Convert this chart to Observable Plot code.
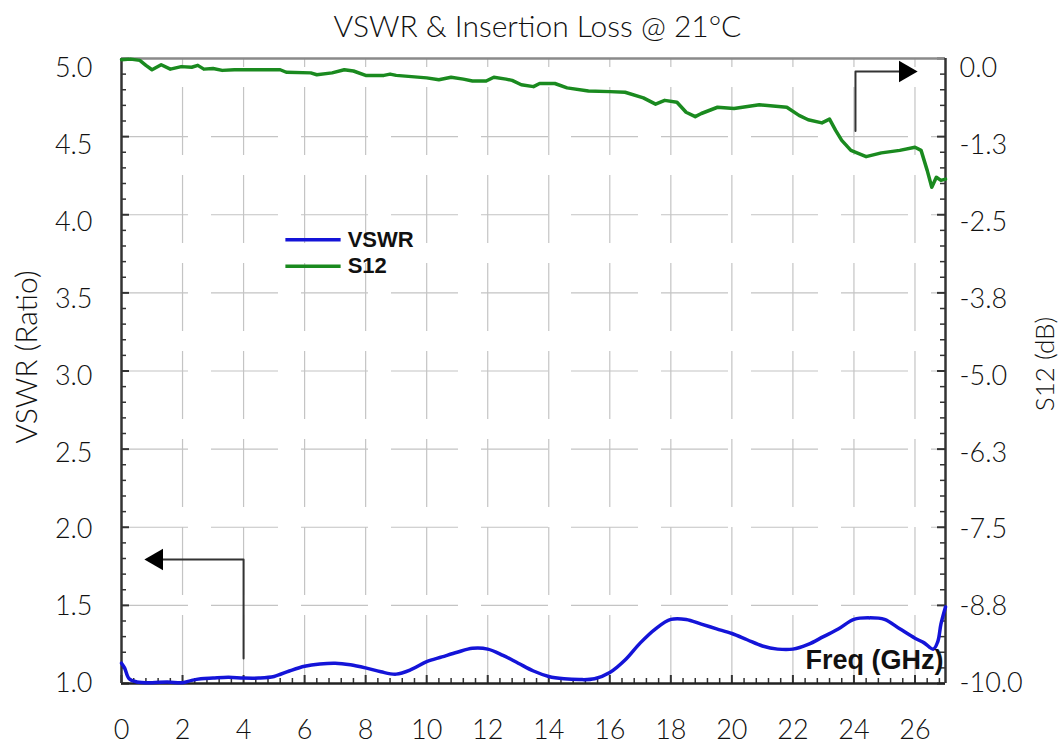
<!DOCTYPE html>
<html>
<head>
<meta charset="utf-8">
<script src="https://cdn.jsdelivr.net/npm/d3@7"></script>
<script src="https://cdn.jsdelivr.net/npm/@observablehq/plot@0.6"></script>
<style>
  html, body { margin: 0; padding: 0; background: #fff; }
  #chart svg { display: block; }
</style>
</head>
<body>
<div id="chart"></div>
<script>
// ---- data ----
const titleText = "VSWR & Insertion Loss @ 21°C";
const xTicks = [0, 2, 4, 6, 8, 10, 12, 14, 16, 18, 20, 22, 24, 26];
const leftTicks = [1.0, 1.5, 2.0, 2.5, 3.0, 3.5, 4.0, 4.5, 5.0];
const leftTickLabels = ["1.0", "1.5", "2.0", "2.5", "3.0", "3.5", "4.0", "4.5", "5.0"];
const rightTickLabels = ["-10.0", "-8.8", "-7.5", "-6.3", "-5.0", "-3.8", "-2.5", "-1.3", "0.0"];

const vswrFreq = [0, 0.1, 0.25, 0.5, 1.0, 1.5, 2.0, 2.3, 2.6, 3.0, 3.5, 4.0, 4.5, 5.0, 5.5, 6.0, 6.5, 7.0, 7.5, 8.0, 8.5, 9.0, 9.5, 10.0, 10.5, 11.0, 11.5, 12.0, 12.5, 13.0, 13.5, 14.0, 14.5, 15.0, 15.5, 16.0, 16.5, 17.0, 17.5, 18.0, 18.5, 19.0, 19.5, 20.0, 20.5, 21.0, 21.5, 22.0, 22.5, 23.0, 23.5, 24.0, 24.5, 25.0, 25.5, 26.0, 26.3, 26.6, 26.75, 26.85, 27.0];
const vswrValue = [1.13, 1.10, 1.03, 1.01, 1.005, 1.01, 1.005, 1.02, 1.03, 1.035, 1.04, 1.035, 1.035, 1.045, 1.08, 1.11, 1.125, 1.13, 1.12, 1.10, 1.075, 1.06, 1.09, 1.14, 1.17, 1.20, 1.225, 1.22, 1.18, 1.13, 1.08, 1.045, 1.03, 1.025, 1.03, 1.07, 1.15, 1.26, 1.35, 1.41, 1.41, 1.38, 1.35, 1.32, 1.28, 1.24, 1.22, 1.22, 1.25, 1.30, 1.35, 1.41, 1.42, 1.41, 1.35, 1.29, 1.26, 1.22, 1.27, 1.38, 1.49];

const s12Freq = [0, 0.3, 0.6, 0.8, 1.0, 1.3, 1.6, 1.96, 2.3, 2.5, 2.7, 3.0, 3.3, 3.7, 4.5, 5.2, 5.4, 6.2, 6.4, 6.9, 7.3, 7.6, 8.0, 8.6, 8.8, 9.0, 9.5, 10.0, 10.4, 10.8, 11.2, 11.5, 11.95, 12.2, 12.6, 12.8, 13.1, 13.5, 13.7, 14.2, 14.6, 15.3, 16.0, 16.5, 17.1, 17.5, 17.8, 18.2, 18.5, 18.8, 19.0, 19.53, 20.07, 20.9, 21.8, 22.2, 22.5, 22.95, 23.2, 23.4, 23.6, 23.9, 24.4, 24.9, 25.5, 26.0, 26.2, 26.4, 26.55, 26.7, 26.85, 27.0];
const s12Value = [-0.02, -0.01, -0.03, -0.11, -0.18, -0.10, -0.17, -0.13, -0.14, -0.11, -0.17, -0.16, -0.19, -0.18, -0.18, -0.18, -0.22, -0.23, -0.26, -0.23, -0.18, -0.20, -0.27, -0.27, -0.25, -0.27, -0.29, -0.31, -0.34, -0.30, -0.33, -0.36, -0.36, -0.30, -0.33, -0.35, -0.42, -0.45, -0.40, -0.40, -0.47, -0.52, -0.53, -0.54, -0.63, -0.73, -0.67, -0.70, -0.86, -0.93, -0.88, -0.78, -0.80, -0.74, -0.78, -0.91, -0.98, -1.03, -0.97, -1.15, -1.31, -1.47, -1.57, -1.51, -1.47, -1.42, -1.47, -1.79, -2.06, -1.90, -1.95, -1.93];

const seriesNames = ["VSWR", "S12"];
const seriesColors = ["#1414d8", "#1a8a1f"];

// ---- derived tables ----
const s12ToLeft = db => 5 + db * 0.4;   // right axis -10..0 dB onto left 1..5
const vswr = vswrFreq.map((f, i) => ({f, v: vswrValue[i]}));
const s12 = s12Freq.map((f, i) => ({f, v: s12ToLeft(s12Value[i])}));
const leftMinor = d3.range(1, 5.0001, 0.1).map(d => +d.toFixed(2)).filter(d => !leftTicks.some(t => Math.abs(t - d) < 1e-6));
const xMinor = d3.range(0, 27.0001, 0.4).map(d => +d.toFixed(2)).filter(d => d % 2 !== 0);
const gridX = xTicks.filter(d => d > 0);
const gridY = leftTicks.filter(d => d > 1 && d < 5);
// the reference lays its y tick labels out slightly compressed toward the bottom
const labelY = d => 1 + (d - 1) * 0.984;
const leftLabels = leftTicks.map((t, i) => ({y: labelY(t), text: leftTickLabels[i]}));
const rightLabels = leftTicks.map((t, i) => ({y: labelY(t), text: rightTickLabels[i]}));

// annotation anchors (data coordinates)
const arrowRight = [{f: 24.05, v: 4.536}, {f: 24.05, v: 4.917}, {f: 25.6, v: 4.917}];
const arrowLeft = [{f: 4.0, v: 1.16}, {f: 4.0, v: 1.794}, {f: 1.3, v: 1.794}];
const arrowHeads = [{f: 25.68, v: 4.917, r: 90}, {f: 1.157, v: 1.794, r: -90}];
const legend = [
  {name: seriesNames[0], color: seriesColors[0], x1: 5.37, x2: 7.18, tx: 7.41, v: 3.84},
  {name: seriesNames[1], color: seriesColors[1], x1: 5.37, x2: 7.18, tx: 7.41, v: 3.67}
];

const W = 1064, H = 744;
const mL = 121, mR = 119, mT = 58, mB = 61;
const pxPerX = (W - mL - mR) / 27;
const pxPerY = (H - mT - mB) / 4;
const lightFont = "Lato, 'Open Sans', sans-serif";
const boldFont = "'Liberation Sans', Arial, sans-serif";
const txt = "#111";

const chart = Plot.plot({
  width: W,
  height: H,
  marginLeft: mL,
  marginRight: mR,
  marginTop: mT,
  marginBottom: mB,
  style: {fontFamily: lightFont, background: "#fff", overflow: "visible"},
  x: {domain: [0, 27]},
  y: {domain: [1, 5]},
  marks: [
    // grid
    Plot.ruleX(gridX, {y1: 1, y2: 5, stroke: "#c4c4c4", strokeWidth: 1.2, strokeDasharray: "68,20"}),
    Plot.ruleY(gridY, {x1: 0, x2: 27, stroke: "#c4c4c4", strokeWidth: 1.2, strokeDasharray: "67,23"}),
    // inward ticks
    Plot.ruleY(leftTicks, {x1: 0, x2: 8 / pxPerX, stroke: "#333", strokeWidth: 2}),
    Plot.ruleY(leftMinor, {x1: 0, x2: 5 / pxPerX, stroke: "#333", strokeWidth: 1.5}),
    Plot.ruleY(leftTicks, {x1: 27 - 8 / pxPerX, x2: 27, stroke: "#333", strokeWidth: 2}),
    Plot.ruleY(leftMinor, {x1: 27 - 5 / pxPerX, x2: 27, stroke: "#333", strokeWidth: 1.5}),
    Plot.ruleX(xTicks, {y1: 1, y2: 1 + 8 / pxPerY, stroke: "#333", strokeWidth: 2}),
    Plot.ruleX(xMinor, {y1: 1, y2: 1 + 5 / pxPerY, stroke: "#333", strokeWidth: 1.5}),
    // frame
    Plot.ruleY([5], {stroke: "#8a8a8a", strokeWidth: 2.5}),
    Plot.ruleY([1], {stroke: "#222", strokeWidth: 2.5}),
    Plot.ruleX([0], {stroke: "#333", strokeWidth: 2.5}),
    Plot.ruleX([27], {stroke: "#333", strokeWidth: 2.5}),
    // axes labels
    Plot.axisX({ticks: xTicks, tickSize: 0, tickPadding: 36, fontSize: 27, fontWeight: 300, fill: txt, label: null}),
    Plot.axisY({ticks: [], label: null}),
    Plot.text(leftLabels, {y: "y", text: "text", frameAnchor: "left", dx: -29, textAnchor: "end", lineAnchor: "middle", fontSize: 27, fontWeight: 300, fill: txt}),
    Plot.text(rightLabels, {y: "y", text: "text", frameAnchor: "right", dx: 14, textAnchor: "start", lineAnchor: "middle", fontSize: 27, fontWeight: 300, fill: txt}),
    // axis titles and title
    Plot.text([titleText], {frameAnchor: "top", dy: -31, dx: 4, lineAnchor: "middle", fontSize: 30, fontWeight: 300, fill: txt}),
    Plot.text(["VSWR (Ratio)"], {frameAnchor: "left", dx: -94, dy: -14, rotate: -90, lineAnchor: "middle", textAnchor: "middle", fontSize: 30, fontWeight: 300, fill: txt}),
    Plot.text(["S12 (dB)"], {frameAnchor: "right", dx: 100, dy: -7, rotate: -90, lineAnchor: "middle", textAnchor: "middle", fontSize: 26, fontWeight: 300, fill: txt}),
    // series
    Plot.line(s12, {x: "f", y: "v", stroke: seriesColors[1], strokeWidth: 3.5, curve: "linear"}),
    Plot.line(vswr, {x: "f", y: "v", stroke: seriesColors[0], strokeWidth: 3.5, curve: "catmull-rom"}),
    // legend
    Plot.link(legend, {x1: "x1", x2: "x2", y1: "v", y2: "v", stroke: "color", strokeWidth: 3.5}),
    Plot.text(legend, {x: "tx", y: "v", text: "name", textAnchor: "start", lineAnchor: "middle", fontFamily: boldFont, fontWeight: "bold", fontSize: 22, fill: "#111"}),
    // arrows
    Plot.line(arrowRight, {x: "f", y: "v", stroke: "#333", strokeWidth: 2}),
    Plot.line(arrowLeft, {x: "f", y: "v", stroke: "#333", strokeWidth: 2}),
    Plot.dot(arrowHeads, {x: "f", y: "v", rotate: "r", symbol: "triangle", r: 8, fill: "#000", stroke: "none"}),
    // x label
    Plot.text(["Freq (GHz)"], {frameAnchor: "bottom-right", dx: -2, dy: -23, textAnchor: "end", lineAnchor: "middle", fontFamily: boldFont, fontWeight: "bold", fontSize: 27, fill: "#111"})
  ]
});
document.getElementById("chart").append(chart);
</script>
</body>
</html>
